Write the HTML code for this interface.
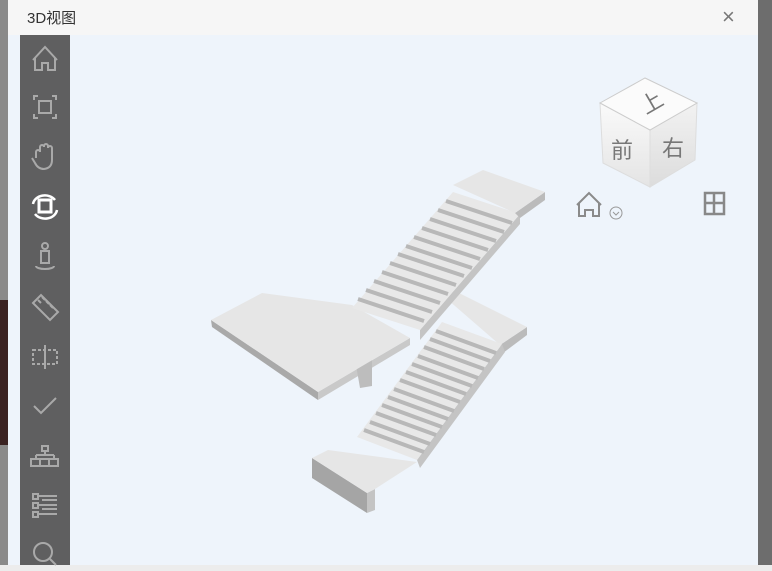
<!DOCTYPE html>
<html><head><meta charset="utf-8"><style>
body{margin:0;width:772px;height:571px;overflow:hidden;background:#eef4fb;font-family:"Liberation Sans","Noto Sans CJK SC",sans-serif;position:relative}
.abs{position:absolute}
</style></head><body>
<div class="abs" style="left:0;top:0;width:8px;height:571px;background:#8a8a8a"></div>
<div class="abs" style="left:0;top:300px;width:8px;height:145px;background:#3a2222"></div>
<div class="abs" style="left:8px;top:0;width:750px;height:35px;background:#f6f6f6"></div>
<div class="abs" style="left:27px;top:7px;font-size:15px;color:#333">3D视图</div>
<div class="abs" style="left:722px;top:4px;font-size:22px;color:#777;font-weight:300">×</div>
<div class="abs" style="left:758px;top:0;width:14px;height:571px;background:#6d6d6d"></div>
<div class="abs" style="left:0;top:565px;width:772px;height:6px;background:#ececec"></div>
<div class="abs" style="left:20px;top:35px;width:50px;height:530px;background:#5f5f60"></div>
<svg class="abs" style="left:0;top:0" width="772" height="571">
<defs>
<linearGradient id="gf" x1="0" y1="0" x2="0" y2="1"><stop offset="0" stop-color="#fafafa"/><stop offset="1" stop-color="#e4e4e4"/></linearGradient>
<linearGradient id="gr" x1="0" y1="0" x2="0" y2="1"><stop offset="0" stop-color="#f2f2f2"/><stop offset="1" stop-color="#dcdcdc"/></linearGradient>
</defs>
<g fill="none" stroke="#a9a9a9" stroke-width="2">
<path d="M33 60 L45 47 L57 60 M35 58 V70 H42 V63 H48 V70 H55 V58"/>
<path d="M34 100 V96 H38 M52 96 H56 V100 M56 114 V118 H52 M38 118 H34 V114"/><rect x="39" y="101" width="12" height="12"/>
<path d="M36 158 V152 a2 2 0 0 1 4 0 V147 a2 2 0 0 1 4 0 V146 a2 2 0 0 1 4 0 V148 a2 2 0 0 1 4 0 V160 q0 8 -8 9 q-6 0 -9 -6 l-3 -5"/>
<rect x="39" y="200" width="12" height="12" stroke="#fff" stroke-width="3"/><path d="M33 204 a12 10 0 0 1 22 -4 M57 210 a12 10 0 0 1 -22 4" stroke="#fff" stroke-width="2.5"/>
<circle cx="45" cy="246" r="3"/><path d="M41 251 h8 v12 h-8z M36 266 a9 3 0 0 0 18 0"/>
<path d="M33 303 l8 -8 l17 17 l-8 8z M38 300 l3 3 M42 297 l3 3 M46 301 l3 3 M50 305 l3 3"/>
<path d="M33 350 h24 v14 h-24z" stroke-dasharray="3 2"/><path d="M45 345 v24"/>
<path d="M34 406 l7 7 l15 -15"/>
<rect x="42" y="446" width="6" height="5"/><path d="M45 451 v4 M36 455 h18 M36 455 v4 M54 455 v4"/><rect x="31" y="459" width="27" height="7"/><path d="M40 459 v7 M49 459 v7"/>
<rect x="33" y="494" width="5" height="5"/><rect x="33" y="503" width="5" height="5"/><rect x="33" y="512" width="5" height="5"/><path d="M38 496 h19 M38 505 h19 M38 514 h19 M42 500 h15 M42 509 h15"/>
<circle cx="43" cy="552" r="9"/><path d="M50 559 l6 6"/>
</g>
<!-- big slab -->
<polygon points="211,320 318,392 318,400 212,327" fill="#a9a9a9"/>
<polygon points="318,392 410,338 410,345 318,400" fill="#c9c9c9"/>
<polygon points="356,365 372,360 372,386 360,388" fill="#bdbdbd"/>
<polygon points="211,320 262,293 352,305 410,338 318,392" fill="#e6e6e6"/>
<!-- lower top landing -->
<polygon points="500,345 527,327 527,335 503,353" fill="#bbb"/>
<polygon points="440,293 453,290 527,327 500,345" fill="#e6e6e6"/>
<!-- lower flight -->
<polygon points="502,344 417,460 420,468 505,352" fill="#c4c4c4"/>
<polygon points="442,322 502,344 417,460 357,437" fill="#e8e8e8"/>
<g stroke="#b8b8b8" stroke-width="4">
<line x1="436" y1="331" x2="496" y2="353"/><line x1="430" y1="339" x2="490" y2="361"/><line x1="424" y1="347" x2="484" y2="369"/><line x1="418" y1="356" x2="478" y2="378"/><line x1="412" y1="364" x2="472" y2="386"/><line x1="406" y1="372" x2="466" y2="394"/><line x1="400" y1="380" x2="460" y2="402"/><line x1="394" y1="389" x2="454" y2="411"/><line x1="388" y1="397" x2="448" y2="419"/><line x1="382" y1="405" x2="442" y2="427"/><line x1="376" y1="413" x2="436" y2="435"/><line x1="370" y1="422" x2="430" y2="444"/><line x1="364" y1="430" x2="424" y2="452"/>
</g>
<!-- bottom landing -->
<polygon points="312,458 367,493 367,513 312,478" fill="#a5a5a5"/>
<polygon points="367,493 375,489 375,510 367,513" fill="#c4c4c4"/>
<polygon points="312,458 328,450 417,462 375,489 367,493" fill="#e6e6e6"/>
<!-- upper flight -->
<polygon points="520,214 420,330 420,340 520,224" fill="#c4c4c4"/>
<polygon points="453,192 520,214 420,330 352,308" fill="#e8e8e8"/>
<g stroke="#b8b8b8" stroke-width="4">
<line x1="446" y1="201" x2="512" y2="223"/><line x1="438" y1="210" x2="504" y2="232"/><line x1="430" y1="219" x2="496" y2="241"/><line x1="422" y1="228" x2="488" y2="250"/><line x1="414" y1="237" x2="480" y2="259"/><line x1="406" y1="246" x2="472" y2="268"/><line x1="398" y1="254" x2="464" y2="276"/><line x1="390" y1="263" x2="456" y2="285"/><line x1="382" y1="272" x2="448" y2="294"/><line x1="374" y1="281" x2="440" y2="303"/><line x1="366" y1="290" x2="432" y2="312"/><line x1="358" y1="299" x2="424" y2="321"/>
</g>
<polygon points="515,213 545,192 545,200 520,218" fill="#bbb"/>
<polygon points="453,185 483,170 545,192 515,213" fill="#e6e6e6"/>
<!-- cube -->
<polygon points="600,103 650,130 650,187 603,163" fill="url(#gf)" stroke="#ddd"/>
<polygon points="650,130 697,103 695,160 650,187" fill="url(#gr)" stroke="#ddd"/>
<polygon points="600,103 645,78 697,103 650,130" fill="#fbfbfb" stroke="#ccc"/>
<text x="652" y="110" font-size="22" fill="#777" text-anchor="middle" transform="rotate(-30 652 103)" font-family="Noto Sans CJK SC">上</text>
<text x="622" y="158" font-size="22" fill="#777" text-anchor="middle" font-family="Noto Sans CJK SC">前</text>
<text x="673" y="156" font-size="22" fill="#777" text-anchor="middle" font-family="Noto Sans CJK SC">右</text>
<g fill="none" stroke="#8a8a8a" stroke-width="2">
<path d="M577 205 L589 193 L601 205 M579 203 V216 H585 V210 H593 V216 H599 V203"/>
</g>
<circle cx="616" cy="213" r="6" fill="none" stroke="#999"/><path d="M613 212 l3 3 l3 -3" fill="none" stroke="#999"/>
<g fill="none" stroke="#888" stroke-width="2.5"><rect x="705" y="193" width="19" height="21"/><path d="M714 193 v21 M705 203 h19"/></g>
</svg>
</body></html>
